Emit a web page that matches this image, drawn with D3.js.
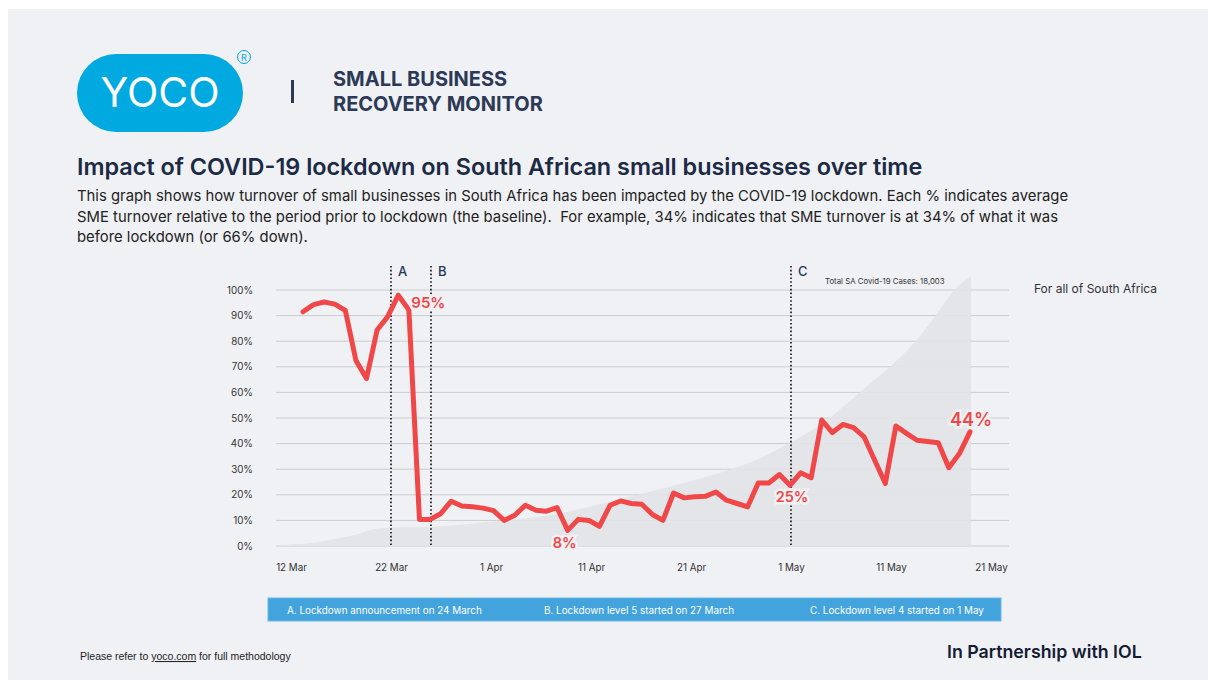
<!DOCTYPE html>
<html>
<head>
<meta charset="utf-8">
<script src="https://cdn.jsdelivr.net/npm/d3@7"></script>
<style>
  body { margin: 0; background: #fff; }
  svg { display: block; }
</style>
</head>
<body>
<div id="chart"></div>
<script>
// turnover relative to pre-lockdown baseline (%), one value per day
const turnover = [91.5, 94.3, 95.3, 94.5, 92.0, 72.5, 65.4, 84.4, 89.6, 98.0,
    92.2, 10.4, 10.4, 12.6, 17.5, 15.6, 15.3, 14.8, 13.8, 10.0,
    12.0, 15.9, 14.0, 13.6, 15.0, 6.1, 10.4, 10.0, 7.7, 15.9,
    17.6, 16.6, 16.3, 12.3, 10.0, 20.7, 18.8, 19.2, 19.4, 21.1,
    17.9, 16.6, 15.3, 24.6, 24.6, 27.9, 23.7, 28.6, 26.7, 49.2,
    44.3, 47.5, 46.2, 42.6, 33.5, 24.4, 46.9, 44.0, 41.3, 40.8,
    40.3, 30.6, 36.1, 44.6];

// cumulative SA covid cases (background area)
const caseDates = ["2020-03-10", "2020-03-12", "2020-03-14", "2020-03-17", "2020-03-19", "2020-03-20",
    "2020-03-22", "2020-03-26", "2020-04-01", "2020-04-06", "2020-04-08", "2020-04-13",
    "2020-04-18", "2020-04-22", "2020-04-25", "2020-04-28", "2020-05-01", "2020-05-04",
    "2020-05-08", "2020-05-12", "2020-05-14", "2020-05-16", "2020-05-17", "2020-05-18", "2020-05-19"];
const caseCounts = [0, 100, 205, 550, 855, 1080, 1230, 1285, 1625, 1970, 2190, 2995,
    3815, 4535, 5135, 5900, 6930, 8130, 10350, 12660, 14100, 15910, 16850, 17540, 18003];

const xTicks = ["2020-03-12", "2020-03-22", "2020-04-01", "2020-04-11", "2020-04-21", "2020-05-01", "2020-05-11", "2020-05-21"];
const yTicks = [0, 10, 20, 30, 40, 50, 60, 70, 80, 90, 100];

const eventNames = ["A", "B", "C"];
const eventDates = ["2020-03-22", "2020-03-26", "2020-05-01"];
const eventNotes = ["A. Lockdown announcement on 24 March", "B. Lockdown level 5 started on 27 March", "C. Lockdown level 4 started on 1 May"];

const calloutIndex = [9, 25, 46, 63];
const calloutText = ["95%", "8%", "25%", "44%"];

const width = 1208, height = 680;
const bg = "#f0f1f5", navy = "#1c2a45", red = "#f04848";
const parse = d3.utcParse("%Y-%m-%d");

const svg = d3.select("#chart").append("svg")
    .attr("width", width)
    .attr("height", height)
    .style("font-family", "Inter, 'Noto Sans', sans-serif");

svg.append("rect")
    .attr("x", 8).attr("y", 9)
    .attr("width", width - 8).attr("height", height - 9)
    .attr("fill", bg);

/* header */
svg.append("rect")
    .attr("x", 77).attr("y", 54)
    .attr("width", 166).attr("height", 78)
    .attr("rx", 39)
    .attr("fill", "#00a9e0");
svg.append("text")
    .attr("x", 160).attr("y", 107)
    .attr("text-anchor", "middle")
    .attr("font-size", 41)
    .attr("font-weight", 400)
    .attr("fill", "#fff")
    .text("YOCO");
svg.append("circle")
    .attr("cx", 244).attr("cy", 57).attr("r", 6.5)
    .attr("fill", "none").attr("stroke", "#00a9e0").attr("stroke-width", 1);
svg.append("text")
    .attr("x", 244).attr("y", 60.5)
    .attr("text-anchor", "middle")
    .attr("font-size", 9)
    .attr("fill", "#00a9e0")
    .text("R");
svg.append("rect")
    .attr("x", 291).attr("y", 80)
    .attr("width", 3).attr("height", 23)
    .attr("fill", "#2c3a57");
svg.append("text")
    .attr("x", 333).attr("y", 86)
    .attr("font-size", 20).attr("font-weight", 700)
    .attr("fill", "#2c3a57")
    .text("SMALL BUSINESS");
svg.append("text")
    .attr("x", 333).attr("y", 111)
    .attr("font-size", 20).attr("font-weight", 700)
    .attr("fill", "#2c3a57")
    .text("RECOVERY MONITOR");

svg.append("text")
    .attr("x", 77).attr("y", 175)
    .attr("font-size", 23.4).attr("font-weight", 600)
    .attr("fill", navy)
    .text("Impact of COVID-19 lockdown on South African small businesses over time");

const desc = [
    "This graph shows how turnover of small businesses in South Africa has been impacted by the COVID-19 lockdown. Each % indicates average",
    "SME turnover relative to the period prior to lockdown (the baseline).  For example, 34% indicates that SME turnover is at 34% of what it was",
    "before lockdown (or 66% down)."
];
svg.append("g").selectAll("text")
    .data(desc)
    .join("text")
    .attr("x", 77)
    .attr("y", (d, i) => 201 + i * 20.5)
    .attr("font-size", 14.85)
    .attr("fill", "#222")
    .style("white-space", "pre")
    .text(d => d);

/* scales */
const x = d3.scaleLinear()
    .domain([0, turnover.length - 1])
    .range([303, 970]);

const xTime = d3.scaleUtc()
    .domain([parse("2020-03-12"), parse("2020-05-21")])
    .range([291, 991]);

const y = d3.scaleLinear()
    .domain([0, 100])
    .range([546, 290]);

const yCases = d3.scaleLinear()
    .domain([0, 17110])
    .range(y.range());

const plotLeft = 276, plotRight = 1009;

// gridlines
svg.append("g").selectAll("line")
    .data(yTicks)
    .join("line")
    .attr("x1", plotLeft).attr("x2", plotRight)
    .attr("y1", d => y(d)).attr("y2", d => y(d))
    .attr("stroke", "#cbccd0")
    .attr("stroke-width", 1);

// cases area
svg.append("clipPath").attr("id", "plotclip")
    .append("rect")
    .attr("x", plotLeft).attr("y", 250)
    .attr("width", plotRight - plotLeft).attr("height", 300);

const cases = caseDates.map((d, i) => ({ date: parse(d), n: caseCounts[i] }));
svg.append("path")
    .datum(cases)
    .attr("clip-path", "url(#plotclip)")
    .attr("fill", "#e2e3e7")
    .attr("fill-opacity", 0.9)
    .attr("d", d3.area()
        .x(d => xTime(d.date))
        .y0(yCases(0))
        .y1(d => yCases(d.n))
        .curve(d3.curveMonotoneX));

svg.append("text")
    .attr("x", 825).attr("y", 284)
    .attr("font-size", 7.8)
    .attr("fill", "#333")
    .text("Total SA Covid-19 Cases: 18,003");

// y axis
svg.append("g")
    .attr("transform", `translate(${plotLeft - 23},0)`)
    .call(d3.axisLeft(y).tickValues(yTicks).tickFormat(d => d + "%").tickSize(0).tickPadding(0))
    .call(g => g.select(".domain").remove())
    .selectAll("text")
    .attr("font-family", "Inter, sans-serif")
    .attr("font-size", 9.8)
    .attr("fill", "#333");

// x axis
svg.append("g")
    .attr("transform", "translate(0,560)")
    .call(d3.axisBottom(xTime).tickValues(xTicks.map(parse)).tickFormat(d3.utcFormat("%-d %b")).tickSize(0).tickPadding(4))
    .call(g => g.select(".domain").remove())
    .selectAll("text")
    .attr("font-family", "Inter, sans-serif")
    .attr("font-size", 9.8)
    .attr("fill", "#333");

// event markers
const ev = svg.append("g").selectAll("g")
    .data(eventNames)
    .join("g");
ev.append("line")
    .attr("x1", (d, i) => xTime(parse(eventDates[i])))
    .attr("x2", (d, i) => xTime(parse(eventDates[i])))
    .attr("y1", 266).attr("y2", y(0))
    .attr("stroke", "#111")
    .attr("stroke-width", 1.6)
    .attr("stroke-dasharray", "1.6,2.2");
ev.append("text")
    .attr("x", (d, i) => xTime(parse(eventDates[i])) + 7)
    .attr("y", 276)
    .attr("font-size", 13)
    .attr("font-weight", 500)
    .attr("fill", "#26355a")
    .text(d => d);

// turnover line
svg.append("path")
    .datum(turnover)
    .attr("fill", "none")
    .attr("stroke", red)
    .attr("stroke-width", 5)
    .attr("stroke-linejoin", "round")
    .attr("stroke-linecap", "round")
    .attr("d", d3.line().x((d, i) => x(i)).y(d => y(d)));

// callouts
const calloutStyle = [
    { dx: 13, dy: 13, anchor: "start", size: 15 },
    { dx: -3, dy: 18, anchor: "middle", size: 14.5 },
    { dx: 2, dy: 17, anchor: "middle", size: 14.5 },
    { dx: 1, dy: -6, anchor: "middle", size: 18 }
];
svg.append("g").selectAll("text")
    .data(calloutIndex)
    .join("text")
    .attr("x", (d, i) => x(d) + calloutStyle[i].dx)
    .attr("y", (d, i) => y(turnover[d]) + calloutStyle[i].dy)
    .attr("text-anchor", (d, i) => calloutStyle[i].anchor)
    .attr("font-size", (d, i) => calloutStyle[i].size)
    .attr("font-weight", 600)
    .attr("fill", red)
    .attr("stroke", bg)
    .attr("stroke-width", 5)
    .attr("paint-order", "stroke")
    .text((d, i) => calloutText[i]);

svg.append("text")
    .attr("x", 1034).attr("y", 293)
    .attr("font-size", 12)
    .attr("fill", "#333")
    .text("For all of South Africa");

// legend bar
svg.append("rect")
    .attr("x", 268).attr("y", 598)
    .attr("width", 733).attr("height", 23)
    .attr("fill", "#43a3dd")
    .attr("stroke", "#6bb8e6")
    .attr("stroke-width", 1);
const noteX = [287, 544, 810];
svg.append("g").selectAll("text")
    .data(eventNotes)
    .join("text")
    .attr("x", (d, i) => noteX[i])
    .attr("y", 613.5)
    .attr("font-size", 9.9)
    .attr("fill", "#fff")
    .text(d => d);

/* footer */
const foot = svg.append("text")
    .attr("x", 80).attr("y", 660)
    .attr("font-family", "'Liberation Sans', Arial, sans-serif")
    .attr("font-size", 10.5)
    .attr("fill", "#222");
foot.append("tspan").text("Please refer to ");
foot.append("tspan").attr("text-decoration", "underline").text("yoco.com");
foot.append("tspan").text(" for full methodology");

svg.append("text")
    .attr("x", 947).attr("y", 658)
    .attr("font-size", 17.8)
    .attr("font-weight", 600)
    .attr("fill", "#131c33")
    .text("In Partnership with IOL");
</script>
</body>
</html>
